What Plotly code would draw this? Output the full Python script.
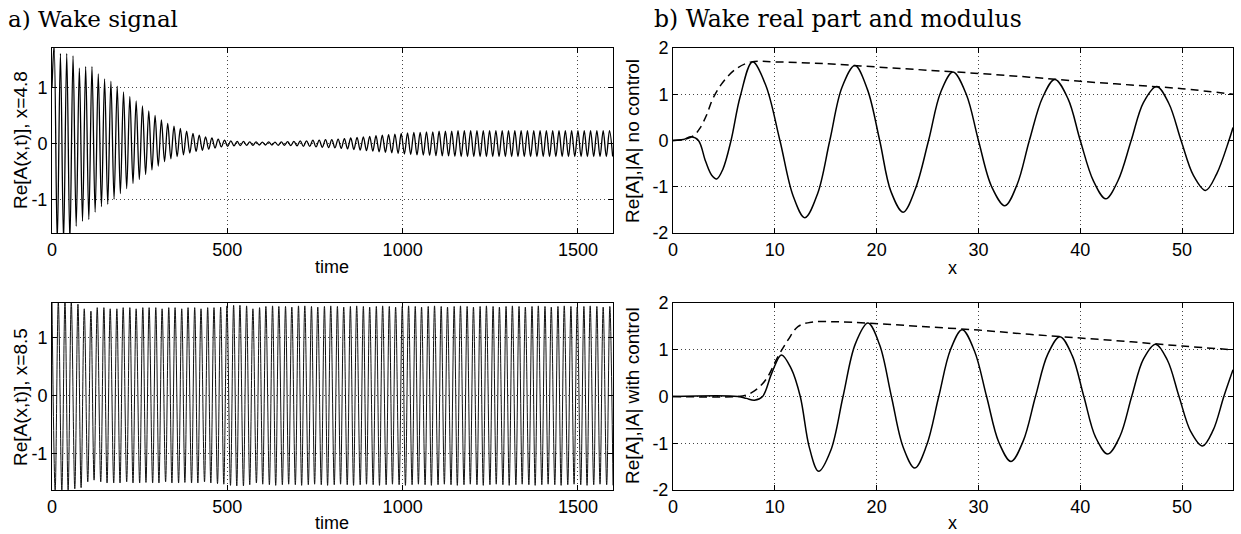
import plotly.graph_objects as go

# ---------------- data: a) wake signal, x = 4.8 (extrema of the oscillation) ----------------
top_start_t = [0]
top_start_v = [1.0]
top_peak_t = [6, 24, 42, 60, 78, 96, 114, 132, 150, 168, 186, 204, 222, 240, 258, 276, 294, 312,
              330, 348, 366, 384, 402, 420, 438, 456, 474, 492, 510, 528, 546, 564, 582, 600,
              618, 636, 654, 672, 690, 708, 726, 744, 762, 780, 798, 816, 834, 852, 870, 888,
              906, 924, 942, 960, 978, 996, 1014, 1032, 1050, 1068, 1086, 1104, 1122, 1140,
              1158, 1176, 1194, 1212, 1230, 1248, 1266, 1284, 1302, 1320, 1338, 1356, 1374,
              1392, 1410, 1428, 1446, 1464, 1482, 1500, 1518, 1536, 1554, 1572, 1590]
top_peak_v = [1.75, 1.60, 1.60, 1.56, 1.34, 1.37, 1.37, 1.24, 1.15, 1.11,
              1.02, 0.92, 0.84, 0.76, 0.67, 0.58, 0.50, 0.42, 0.36, 0.31,
              0.27, 0.22, 0.18, 0.15, 0.12, 0.10, 0.08, 0.06, 0.05, 0.04,
              0.04, 0.03, 0.03, 0.025, 0.03, 0.025, 0.03, 0.035, 0.04, 0.05,
              0.05, 0.06, 0.06, 0.07, 0.07, 0.08, 0.09, 0.10, 0.11, 0.12,
              0.13, 0.14, 0.15, 0.16, 0.17, 0.18, 0.19, 0.20, 0.20, 0.21,
              0.21, 0.22, 0.22, 0.22, 0.23, 0.23, 0.23, 0.23, 0.23, 0.23,
              0.23, 0.23, 0.23, 0.23, 0.23, 0.23, 0.23, 0.23, 0.23, 0.23,
              0.23, 0.23, 0.23, 0.23, 0.23, 0.23, 0.23, 0.23, 0.23]
top_trough_t = [15, 33, 51, 69, 87, 105, 123, 141, 159, 177, 195, 213, 231, 249, 267, 285, 303,
                321, 339, 357, 375, 393, 411, 429, 447, 465, 483, 501, 519, 537, 555, 573, 591,
                609, 627, 645, 663, 681, 699, 717, 735, 753, 771, 789, 807, 825, 843, 861, 879,
                897, 915, 933, 951, 969, 987, 1005, 1023, 1041, 1059, 1077, 1095, 1113, 1131,
                1149, 1167, 1185, 1203, 1221, 1239, 1257, 1275, 1293, 1311, 1329, 1347, 1365,
                1383, 1401, 1419, 1437, 1455, 1473, 1491, 1509, 1527, 1545, 1563, 1581, 1599]
top_trough_v = [-1.75, -1.75, -1.75, -1.47, -1.38, -1.35, -1.22, -1.12, -1.08, -0.99,
                -0.89, -0.80, -0.71, -0.64, -0.55, -0.47, -0.40, -0.32, -0.27, -0.23,
                -0.20, -0.17, -0.14, -0.12, -0.10, -0.08, -0.06, -0.05, -0.04, -0.035,
                -0.03, -0.03, -0.025, -0.025, -0.025, -0.03, -0.03, -0.035, -0.04, -0.05,
                -0.05, -0.06, -0.065, -0.07, -0.075, -0.085, -0.095, -0.105, -0.115, -0.125,
                -0.135, -0.145, -0.155, -0.165, -0.175, -0.185, -0.195, -0.20, -0.205, -0.21,
                -0.215, -0.22, -0.22, -0.225, -0.23, -0.23, -0.23, -0.23, -0.23, -0.23,
                -0.23, -0.23, -0.23, -0.23, -0.23, -0.23, -0.23, -0.23, -0.23, -0.23,
                -0.23, -0.23, -0.23, -0.23, -0.23, -0.23, -0.23, -0.23, -0.23]

# ---------------- data: a) wake signal, x = 8.5 ----------------
bot_peak_t = [0, 18, 37, 55, 74, 92, 111, 129, 148, 166, 185, 203, 222, 240, 259, 277, 296, 314,
              333, 351, 370, 388, 407, 425, 444, 462, 481, 499, 518, 536, 555, 573, 592, 610,
              629, 647, 666, 684, 703, 721, 740, 758, 777, 795, 814, 832, 851, 869, 888, 906,
              925, 943, 962, 980, 999, 1017, 1036, 1054, 1073, 1091, 1110, 1128, 1147, 1165,
              1184, 1202, 1221, 1239, 1258, 1276, 1295, 1313, 1332, 1350, 1369, 1387, 1406,
              1424, 1443, 1461, 1480, 1498, 1517, 1535, 1554, 1572, 1591]
bot_peak_v = [1.62, 1.62, 1.62, 1.62, 1.58, 1.50, 1.46, 1.52, 1.52, 1.50,
              1.50, 1.52, 1.52, 1.50, 1.52, 1.52, 1.52, 1.50, 1.52, 1.52,
              1.50, 1.52, 1.52, 1.50, 1.52, 1.52, 1.53, 1.55, 1.56, 1.56,
              1.55, 1.50, 1.52, 1.54, 1.55, 1.54, 1.54, 1.53, 1.55, 1.55,
              1.54, 1.53, 1.54, 1.55, 1.54, 1.53, 1.54, 1.55, 1.54, 1.53,
              1.54, 1.55, 1.54, 1.53, 1.54, 1.55, 1.54, 1.53, 1.54, 1.55,
              1.54, 1.53, 1.54, 1.55, 1.54, 1.53, 1.54, 1.55, 1.54, 1.53,
              1.54, 1.55, 1.54, 1.53, 1.54, 1.55, 1.54, 1.53, 1.54, 1.55,
              1.54, 1.53, 1.54, 1.55, 1.54, 1.53, 1.54]
bot_trough_t = [9, 28, 46, 65, 83, 102, 120, 139, 157, 176, 194, 213, 231, 250, 268, 287, 305,
                324, 342, 361, 379, 398, 416, 435, 453, 472, 490, 509, 527, 546, 564, 583, 601,
                620, 638, 657, 675, 694, 712, 731, 749, 768, 786, 805, 823, 842, 860, 879, 897,
                916, 934, 953, 971, 990, 1008, 1027, 1045, 1064, 1082, 1101, 1119, 1138, 1156,
                1175, 1193, 1212, 1230, 1249, 1267, 1286, 1304, 1323, 1341, 1360, 1378, 1397,
                1415, 1434, 1452, 1471, 1489, 1508, 1526, 1545, 1563, 1582, 1600]
bot_trough_v = [-1.62, -1.62, -1.62, -1.60, -1.58, -1.48, -1.45, -1.48, -1.50, -1.50,
                -1.50, -1.48, -1.50, -1.50, -1.49, -1.50, -1.50, -1.48, -1.50, -1.50,
                -1.49, -1.50, -1.50, -1.48, -1.50, -1.51, -1.52, -1.54, -1.55, -1.55,
                -1.53, -1.50, -1.52, -1.53, -1.54, -1.53, -1.52, -1.53, -1.54, -1.53,
                -1.52, -1.53, -1.54, -1.53, -1.52, -1.53, -1.54, -1.53, -1.52, -1.53,
                -1.54, -1.53, -1.52, -1.53, -1.54, -1.53, -1.52, -1.53, -1.54, -1.53,
                -1.52, -1.53, -1.54, -1.53, -1.52, -1.53, -1.54, -1.53, -1.52, -1.53,
                -1.54, -1.53, -1.52, -1.53, -1.54, -1.53, -1.52, -1.53, -1.54, -1.53,
                -1.52, -1.53, -1.54, -1.53, -1.52, -1.53, -1.54]

# ---------------- data: b) real part and modulus, no control ----------------
nc_x = [0, 1, 1.8, 2.5, 3.2, 3.8, 4.3, 4.9, 5.7, 6.6, 7.8, 9.1, 10.5, 11.8, 12.95, 14.2, 15.4,
        16.6, 17.87, 19.1, 20.3, 21.4, 22.6, 23.8, 25.1, 26.3, 27.5, 28.8, 30.0, 31.3, 32.6,
        33.8, 35.0, 36.3, 37.5, 38.8, 40.0, 41.3, 42.5, 43.7, 45.0, 46.2, 47.5, 48.7, 49.9,
        51.1, 52.3, 53.4, 54.6, 55]
nc_re = [0, 0.02, 0.08, 0.0, -0.45, -0.75, -0.83, -0.62, 0.0, 0.95, 1.70, 1.2, 0, -1.2, -1.67,
         -1.15, 0, 1.15, 1.62, 1.1, 0, -1.1, -1.55, -1.05, 0, 1.05, 1.48, 1.0, 0, -1.0, -1.41,
         -0.95, 0, 0.93, 1.32, 0.9, 0, -0.88, -1.26, -0.87, 0, 0.82, 1.17, 0.8, 0, -0.75,
         -1.08, -0.72, 0, 0.28]
nc_mod_x = [0, 1, 2, 2.6, 3.3, 3.9, 4.9, 6.2, 7.7, 10, 15, 20, 25, 30, 35, 40, 45, 50, 55]
nc_mod = [0, 0.02, 0.1, 0.25, 0.55, 0.9, 1.26, 1.55, 1.70, 1.70, 1.66, 1.59, 1.52, 1.45, 1.37,
          1.28, 1.20, 1.12, 1.0]

# ---------------- data: b) real part and modulus, with control ----------------
wc_x = [0, 6.4, 7.2, 8.0, 8.8, 9.7, 10.65, 11.6, 12.5, 13.4, 14.3, 15.5, 16.7, 17.9, 19.15,
        20.3, 21.45, 22.6, 23.75, 24.9, 26.1, 27.25, 28.4, 29.6, 30.8, 32.0, 33.2, 34.4, 35.6,
        36.8, 38.0, 39.2, 40.35, 41.5, 42.7, 43.9, 45.05, 46.2, 47.4, 48.55, 49.7, 50.85, 52.0,
        53.05, 54.1, 55]
wc_re = [0, 0, -0.04, -0.08, 0.0, 0.5, 0.89, 0.6, 0, -1.1, -1.60, -1.15, 0, 1.12, 1.57, 1.1,
         0, -1.08, -1.53, -1.05, 0, 1.0, 1.43, 0.98, 0, -0.98, -1.39, -0.95, 0, 0.9, 1.28,
         0.88, 0, -0.87, -1.23, -0.85, 0, 0.8, 1.12, 0.78, 0, -0.75, -1.06, -0.72, 0, 0.57]
wc_mod_x = [0, 6.4, 7.2, 8.0, 8.7, 9.3, 10.3, 11.3, 12.3, 13.6, 15.9, 19.2, 24.3, 30, 35, 40,
            45, 50, 55]
wc_mod = [0, 0, 0.03, 0.12, 0.25, 0.42, 0.85, 1.21, 1.50, 1.59, 1.60, 1.57, 1.50, 1.42, 1.33,
          1.25, 1.17, 1.08, 1.0]

# tick labels
time_ticks = [0, 500, 1000, 1500]
x_ticks = [0, 10, 20, 30, 40, 50]
sig_yticks = [-1, 0, 1]
sig_ytext = ["-1", "0", "1"]
wave_yticks = [-2, -1, 0, 1, 2]
wave_ytext = ["-2", "-1", "0", "1", "2"]


def merge(t_lists, v_lists):
    pts = []
    for tl, vl in zip(t_lists, v_lists):
        assert len(tl) == len(vl), (len(tl), len(vl))
        pts += list(zip(tl, vl))
    pts.sort()
    return [p[0] for p in pts], [p[1] for p in pts]


top_t, top_v = merge([top_start_t, top_peak_t, top_trough_t], [top_start_v, top_peak_v, top_trough_v])
bot_t, bot_v = merge([bot_peak_t, bot_trough_t], [bot_peak_v, bot_trough_v])

W, H = 1241, 534


def px_x(p):
    return p / W


def px_y(p):
    return 1 - p / H


LEFT = [px_x(52), px_x(613)]
RIGHT = [px_x(673), px_x(1233)]
TOP = [px_y(233), px_y(48)]
BOT = [px_y(490), px_y(303)]

fig = go.Figure()
fig.add_trace(go.Scatter(x=top_t, y=top_v, mode="lines", line=dict(color="black", width=1.3, shape="spline"),
                         xaxis="x", yaxis="y"))
fig.add_trace(go.Scatter(x=nc_x, y=nc_re, mode="lines", line=dict(color="black", width=1.5, shape="spline"),
                         xaxis="x2", yaxis="y2"))
fig.add_trace(go.Scatter(x=nc_mod_x, y=nc_mod, mode="lines",
                         line=dict(color="black", width=1.5, shape="spline", dash="8px,5px"),
                         xaxis="x2", yaxis="y2"))
fig.add_trace(go.Scatter(x=bot_t, y=bot_v, mode="lines", line=dict(color="#111", width=1.0, shape="spline"),
                         xaxis="x3", yaxis="y3"))
fig.add_trace(go.Scatter(x=wc_x, y=wc_re, mode="lines", line=dict(color="black", width=1.5, shape="spline"),
                         xaxis="x4", yaxis="y4"))
fig.add_trace(go.Scatter(x=wc_mod_x, y=wc_mod, mode="lines",
                         line=dict(color="black", width=1.5, shape="spline", dash="8px,5px"),
                         xaxis="x4", yaxis="y4"))

FONT = "Liberation Sans, Arial, Helvetica, sans-serif"
common = dict(showline=True, linecolor="black", linewidth=1, mirror="ticks", ticks="inside",
              ticklen=5, tickcolor="black", tickwidth=1, showgrid=True, gridcolor="#444",
              griddash="1px,3px", gridwidth=1, zeroline=False, automargin=False,
              tickfont=dict(family=FONT, size=18, color="black"))

fig.update_layout(
    width=W, height=H, margin=dict(l=0, r=0, t=0, b=0, autoexpand=False),
    paper_bgcolor="white", plot_bgcolor="white", showlegend=False,
    xaxis=dict(common, domain=LEFT, anchor="y", range=[0, 1600], tickvals=time_ticks),
    yaxis=dict(common, domain=TOP, anchor="x", range=[-1.59, 1.70], tickvals=sig_yticks, ticktext=sig_ytext),
    xaxis2=dict(common, domain=RIGHT, anchor="y2", range=[0, 55], tickvals=x_ticks),
    yaxis2=dict(common, domain=TOP, anchor="x2", range=[-2, 2], tickvals=wave_yticks, ticktext=wave_ytext),
    xaxis3=dict(common, domain=LEFT, anchor="y3", range=[0, 1600], tickvals=time_ticks),
    yaxis3=dict(common, domain=BOT, anchor="x3", range=[-1.62, 1.60], tickvals=sig_yticks, ticktext=sig_ytext),
    xaxis4=dict(common, domain=RIGHT, anchor="y4", range=[0, 55], tickvals=x_ticks),
    yaxis4=dict(common, domain=BOT, anchor="x4", range=[-2, 2], tickvals=wave_yticks, ticktext=wave_ytext),
)

SERIF = "DejaVu Serif, Liberation Serif, serif"
ann = []
ann.append(dict(text="a) Wake signal", x=px_x(6), y=px_y(19), xanchor="left", yanchor="middle",
                font=dict(family=SERIF, size=23, color="black")))
ann.append(dict(text="b) Wake real part and modulus", x=px_x(652), y=px_y(19), xanchor="left",
                yanchor="middle", font=dict(family=SERIF, size=23.5, color="black")))
for txt, cx, cy in [("time", 332, 267), ("time", 332, 523), ("x", 952, 268), ("x", 952, 523)]:
    ann.append(dict(text=txt, x=px_x(cx), y=px_y(cy), xanchor="center", yanchor="middle",
                    font=dict(family=FONT, size=18, color="black")))
for txt, cx, cy in [("Re[A(x,t)], x=4.8", 20, 140), ("Re[A(x,t)], x=8.5", 20, 397),
                    ("Re[A],|A| no control", 632, 141), ("Re[A],|A| with control", 632, 396)]:
    ann.append(dict(text=txt, x=px_x(cx), y=px_y(cy), xanchor="center", yanchor="middle",
                    textangle=-90, font=dict(family=FONT, size=19, color="black")))
for a in ann:
    a.update(xref="paper", yref="paper", showarrow=False)
fig.update_layout(annotations=ann)

fig.write_html("out.html", config={"displayModeBar": False, "staticPlot": True},
               post_script="document.body.style.margin='0px';document.body.style.overflow='hidden';")
